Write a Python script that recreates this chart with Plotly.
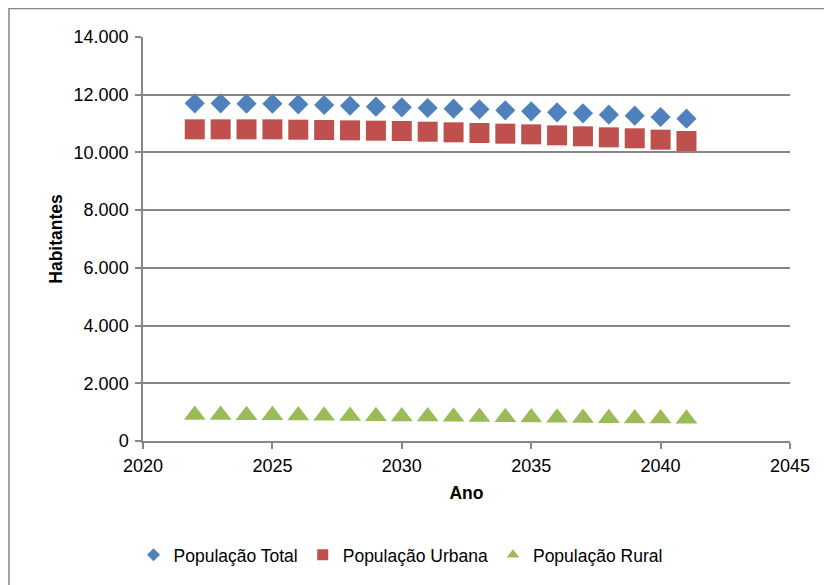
import plotly.graph_objects as go

anos = list(range(2022, 2042))
pop_total = [11700, 11700, 11689, 11689, 11666, 11643, 11619, 11585, 11562, 11539,
             11516, 11492, 11458, 11423, 11389, 11354, 11308, 11273, 11227, 11169]
pop_urbana = [10800, 10800, 10800, 10800, 10788, 10777, 10765, 10754, 10742, 10719,
              10696, 10673, 10650, 10627, 10592, 10558, 10523, 10489, 10442, 10396]
pop_rural = [905, 900, 895, 889, 882, 875, 868, 860, 852, 845,
             838, 830, 822, 814, 806, 798, 790, 782, 776, 770]

series_names = ["População Total", "População Urbana", "População Rural"]
y_ticks = [0, 2000, 4000, 6000, 8000, 10000, 12000, 14000]
x_ticks = [2020, 2025, 2030, 2035, 2040, 2045]

FONT = "Liberation Sans, Arial, sans-serif"
COLORS = ["#4F81BD", "#C0504D", "#9BBB59"]
SYMBOLS = ["diamond", "square", "triangle-up"]
SIZES = [15.5, 20, 19]
LEG_SIZES = [10, 11, 11]

fig = go.Figure()
for name, vals, c, s, sz in zip(series_names, [pop_total, pop_urbana, pop_rural],
                                COLORS, SYMBOLS, SIZES):
    fig.add_trace(go.Scatter(x=anos, y=vals, mode="markers", name=name,
                             showlegend=False, legendgroup=name,
                             marker=dict(symbol=s, size=sz, color=c)))
# legend entries with smaller symbols
for name, c, s, sz in zip(series_names, COLORS, SYMBOLS, LEG_SIZES):
    fig.add_trace(go.Scatter(x=[None], y=[None], mode="markers", name=name,
                             legendgroup=name,
                             marker=dict(symbol=s, size=sz, color=c)))

PL, PT, PW, PH = 135, 29, 647, 404

fig.update_layout(
    width=832, height=585,
    margin=dict(l=PL, r=832 - PL - PW, t=PT, b=585 - PT - PH),
    paper_bgcolor="white", plot_bgcolor="white",
    separators=",.",
    font=dict(family=FONT, size=18, color="black"),
    showlegend=True,
    legend=dict(orientation="h", x=0.398, xanchor="center", y=-0.282, yanchor="middle",
                font=dict(size=17.5), itemwidth=30, tracegroupgap=0),
    xaxis=dict(range=[2020, 2045], tickvals=x_ticks, showgrid=False,
               showline=True, linecolor="#868686", linewidth=1.5,
               ticks="outside", ticklen=6, tickcolor="#868686", tickwidth=1.5,
               zeroline=False, tickfont=dict(size=18), ticklabelstandoff=2,
               title=dict(text="<b>Ano</b>", font=dict(size=17.5), standoff=11)),
    yaxis=dict(range=[0, 14000], tickvals=y_ticks, tickformat=",d",
               showgrid=True, gridcolor="#868686", gridwidth=1.5,
               showline=True, linecolor="#868686", linewidth=1.5,
               ticks="outside", ticklen=6, tickcolor="#868686", tickwidth=1.5,
               zeroline=False, tickfont=dict(size=18), ticklabelstandoff=3,
               title=dict(text="<b>Habitantes</b>", font=dict(size=17.5), standoff=6)),
    shapes=[dict(type="rect", xref="paper", yref="paper",
                 x0=(1 - PL) / PW, x1=(845 - PL) / PW,
                 y0=(PH - 600) / PH, y1=1 + (PT - 0.5) / PH,
                 line=dict(color="#868686", width=1.5), fillcolor="rgba(0,0,0,0)",
                 layer="below")],
)

fig.write_html("out.html")
